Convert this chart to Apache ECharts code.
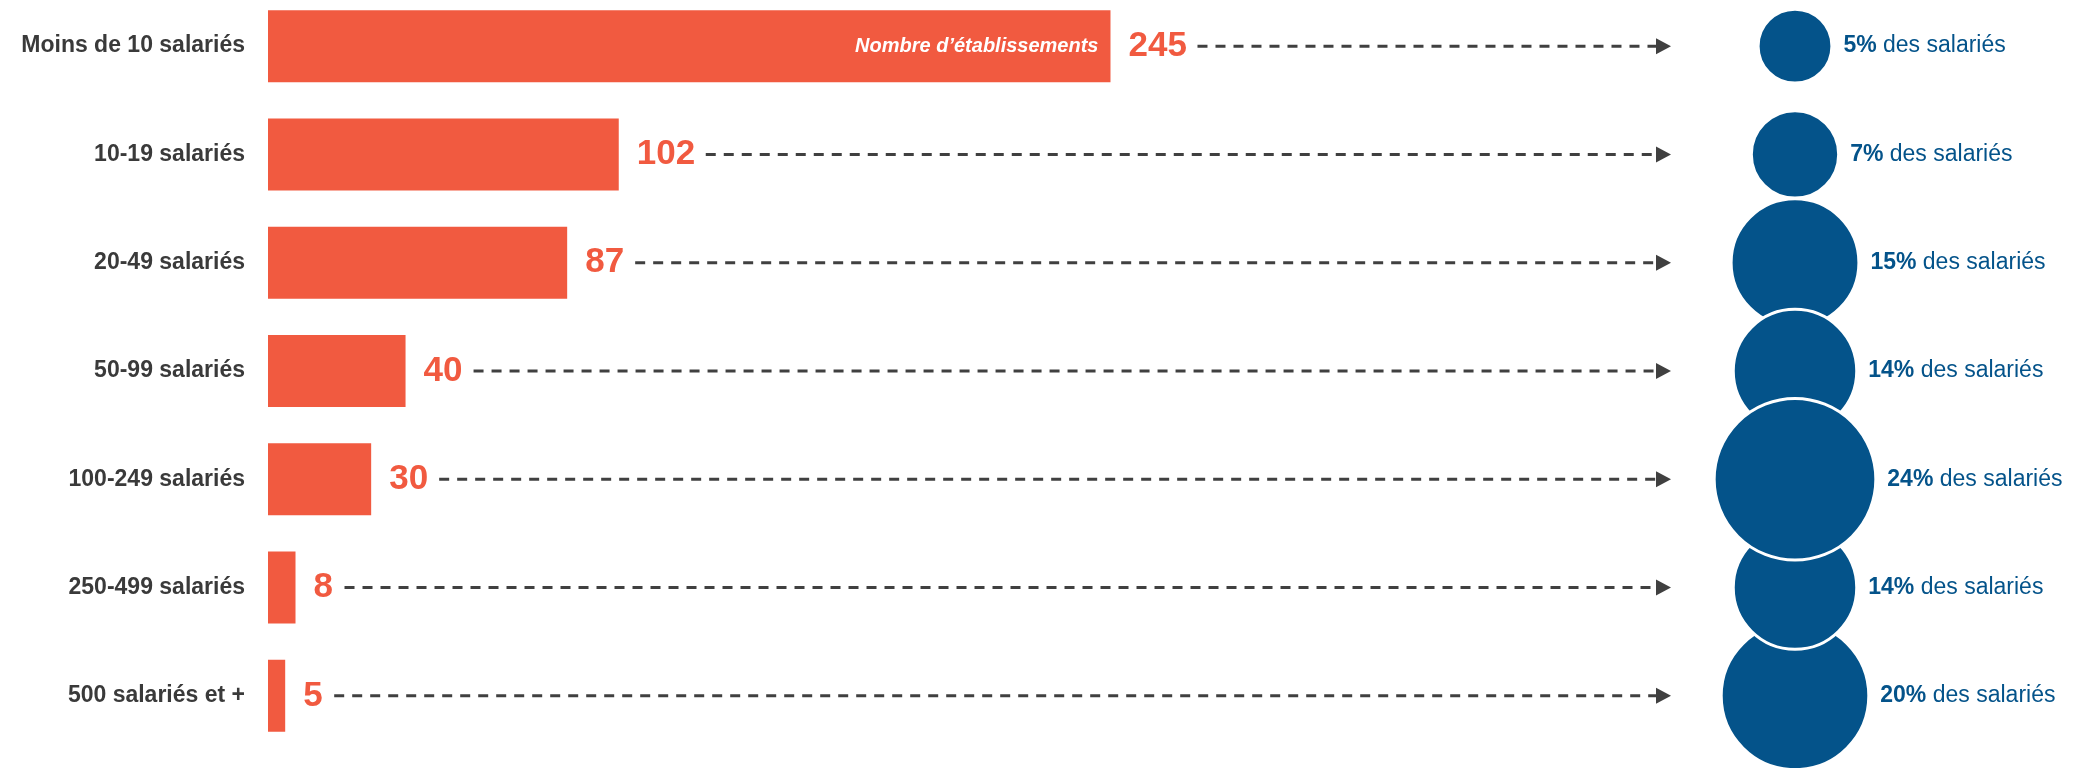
<!DOCTYPE html>
<html>
<head>
<meta charset="utf-8">
<title>Établissements et salariés par taille</title>
<script src="https://cdn.jsdelivr.net/npm/echarts@6/dist/echarts.min.js"></script>
<style>
  html, body { margin: 0; padding: 0; background: #fff; }
  #chartContainer { width: 2079px; height: 768px; }
</style>
</head>
<body>
<div id="chartContainer"></div>
<script>
var categories = ['Moins de 10 salariés', '10-19 salariés', '20-49 salariés', '50-99 salariés', '100-249 salariés', '250-499 salariés', '500 salariés et +'];
var etablissements = [245, 102, 87, 40, 30, 8, 5];
var partSalaries = [5, 7, 15, 14, 24, 14, 20];   // % des salariés
var bubbleOrder = [0, 1, 2, 3, 6, 5, 4];          // drawing order of circles, last on top
var barNote = 'Nombre d’établissements';

var FONT = '"Liberation Sans", Arial, sans-serif';
var RED = '#F15A40';
var BLUE = '#04538A';
var DARK = '#404040';

function renderArrow(params, api) {
    var v = api.value(0);
    var start = api.coord([v, api.value(1)]);
    var cs = params.coordSys;
    var tipX = cs.x + cs.width;
    var y = start[1];
    // leave room for the value label after the bar
    var x0 = start[0] + 30 + 19 * String(v).length;
    return {
        type: 'group',
        children: [
            {
                type: 'line',
                shape: { x1: x0, y1: y, x2: tipX - 15, y2: y },
                style: { stroke: DARK, lineWidth: 3, lineDash: [10, 8] }
            },
            {
                type: 'polygon',
                shape: { points: [[tipX - 15, y - 8], [tipX, y], [tipX - 15, y + 8]] },
                style: { fill: DARK }
            }
        ]
    };
}

function Set_Etab_echarts() {
    var container = document.getElementById('chartContainer');
    var myChart = echarts.init(container, null, { renderer: 'canvas' });
    var option = {
        animation: false,
        grid: [
            { left: 268, width: 1403, top: -8, height: 758, outerBoundsMode: 'none', containLabel: false },
            { left: 1745, width: 100, top: -8, height: 758, outerBoundsMode: 'none', containLabel: false }
        ],
        xAxis: [
            { type: 'value', gridIndex: 0, min: 0, max: 408, show: false },
            { type: 'value', gridIndex: 1, min: 0, max: 1, show: false }
        ],
        yAxis: [
            {
                type: 'category', gridIndex: 0, data: categories, inverse: true,
                axisLine: { show: false }, axisTick: { show: false }, splitLine: { show: false },
                axisLabel: {
                    margin: 23,
                    fontFamily: FONT,
                    fontWeight: 'bold',
                    fontSize: 23,
                    color: '#3a3a3a'
                }
            },
            {
                type: 'category', gridIndex: 1, data: categories, inverse: true, show: false
            }
        ],
        series: [
            {
                name: 'Établissements',
                type: 'bar',
                xAxisIndex: 0, yAxisIndex: 0,
                barWidth: 72,
                itemStyle: { color: RED },
                label: {
                    show: true,
                    position: 'right',
                    distance: 18,
                    fontFamily: FONT,
                    fontWeight: 'bold',
                    fontSize: 35,
                    color: RED
                },
                data: etablissements
            },
            {
                name: 'note',
                type: 'bar',
                xAxisIndex: 0, yAxisIndex: 0,
                barWidth: 72,
                barGap: '-100%',
                silent: true,
                itemStyle: { color: 'rgba(0,0,0,0)' },
                label: {
                    show: true,
                    position: 'insideRight',
                    distance: 12,
                    formatter: barNote,
                    fontFamily: FONT,
                    fontWeight: 'bold',
                    fontStyle: 'italic',
                    fontSize: 20,
                    color: '#fff'
                },
                data: [etablissements[0]]
            },
            {
                name: 'fleches',
                type: 'custom',
                xAxisIndex: 0, yAxisIndex: 0,
                renderItem: renderArrow,
                encode: { x: 0, y: 1 },
                data: etablissements.map(function (v, i) { return [v, i]; })
            },
            {
                name: 'Salariés',
                type: 'scatter',
                xAxisIndex: 1, yAxisIndex: 1,
                symbol: 'circle',
                symbolSize: function (d) { return 33 * Math.sqrt(d[2]); },
                itemStyle: { color: BLUE, borderColor: '#fff', borderWidth: 3, opacity: 1 },
                label: {
                    show: true,
                    position: 'right',
                    distance: 10,
                    formatter: function (p) {
                        return '{b|' + p.value[2] + '%}{r| des salariés}';
                    },
                    rich: {
                        b: { fontFamily: FONT, fontWeight: 'bold', fontSize: 23, color: BLUE },
                        r: { fontFamily: FONT, fontSize: 23, color: BLUE }
                    }
                },
                data: bubbleOrder.map(function (i) { return [0.5, i, partSalaries[i]]; })
            }
        ]
    };
    myChart.setOption(option);
    window.addEventListener('resize', myChart.resize);
}
Set_Etab_echarts();
</script>
</body>
</html>
